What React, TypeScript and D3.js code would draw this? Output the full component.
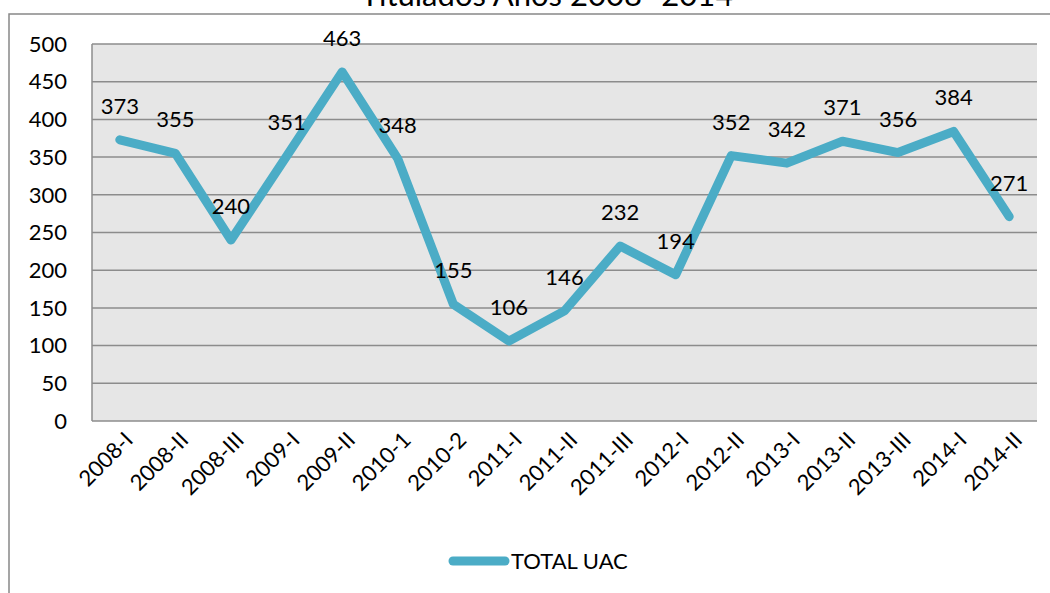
import React from "react";
import * as d3 from "d3";

const categories = ["2008-I","2008-II","2008-III","2009-I","2009-II","2010-1","2010-2","2011-I","2011-II","2011-III","2012-I","2012-II","2013-I","2013-II","2013-III","2014-I","2014-II"];
const totalUAC = [373,355,240,351,463,348,155,106,146,232,194,352,342,371,356,384,271];
const yTicks = [0,50,100,150,200,250,300,350,400,450,500];
const seriesName = "TOTAL UAC";
const title = "Titulados Años 2008- 2014";

export default function App() {
  const W = 1050, H = 593;
  const left = 92, right = 1037, top = 44, bottom = 421;
  const font = "Lato, 'Open Sans', sans-serif";
  const fs = 22;
  const x = d3.scaleBand<string>().domain(categories).range([left, right]);
  const y = d3.scaleLinear().domain([0, 500]).range([bottom, top]);
  const cx = (c: string) => (x(c) as number) + x.bandwidth() / 2;
  const line = d3.line<number>().x((_, i) => cx(categories[i])).y(d => y(d));
  return (
    <svg width={W} height={H} style={{ position: "absolute", left: 0, top: 0, background: "#fff" }}>
      <rect x={9} y={14} width={1100} height={700} fill="#fff" stroke="#888" strokeWidth={1.5} />
      <text x={547} y={6} textAnchor="middle" fontFamily={font} fontSize={31} fill="#000">{title}</text>
      <rect x={left} y={top} width={right - left} height={bottom - top} fill="#E6E6E6" />
      {yTicks.map(t => (
        <g key={t}>
          <line x1={left} x2={right} y1={y(t)} y2={y(t)} stroke="#8C8C8C" strokeWidth={1.5} />
          <text x={67} y={y(t)} dy="0.35em" textAnchor="end" fontFamily={font} fontSize={fs} fill="#000">{t}</text>
        </g>
      ))}
      <line x1={left} x2={left} y1={top} y2={bottom} stroke="#8C8C8C" strokeWidth={1.5} />
      {categories.map(c => (
        <text key={c} transform={`translate(${cx(c) + 9},${bottom + 15}) rotate(-45)`} textAnchor="end" dy="0.35em" fontFamily={font} fontSize={fs} fill="#000">{c}</text>
      ))}
      <path d={line(totalUAC) || ""} fill="none" stroke="#4BACC6" strokeWidth={9} strokeLinejoin="round" strokeLinecap="round" />
      {totalUAC.map((v, i) => (
        <text key={i} x={cx(categories[i])} y={y(v) - 26} textAnchor="middle" fontFamily={font} fontSize={fs} fill="#000">{v}</text>
      ))}
      <line x1={453} x2={505} y1={561} y2={561} stroke="#4BACC6" strokeWidth={9} strokeLinecap="round" />
      <text x={511} y={561} dy="0.35em" fontFamily={font} fontSize={fs} fill="#000">{seriesName}</text>
    </svg>
  );
}
